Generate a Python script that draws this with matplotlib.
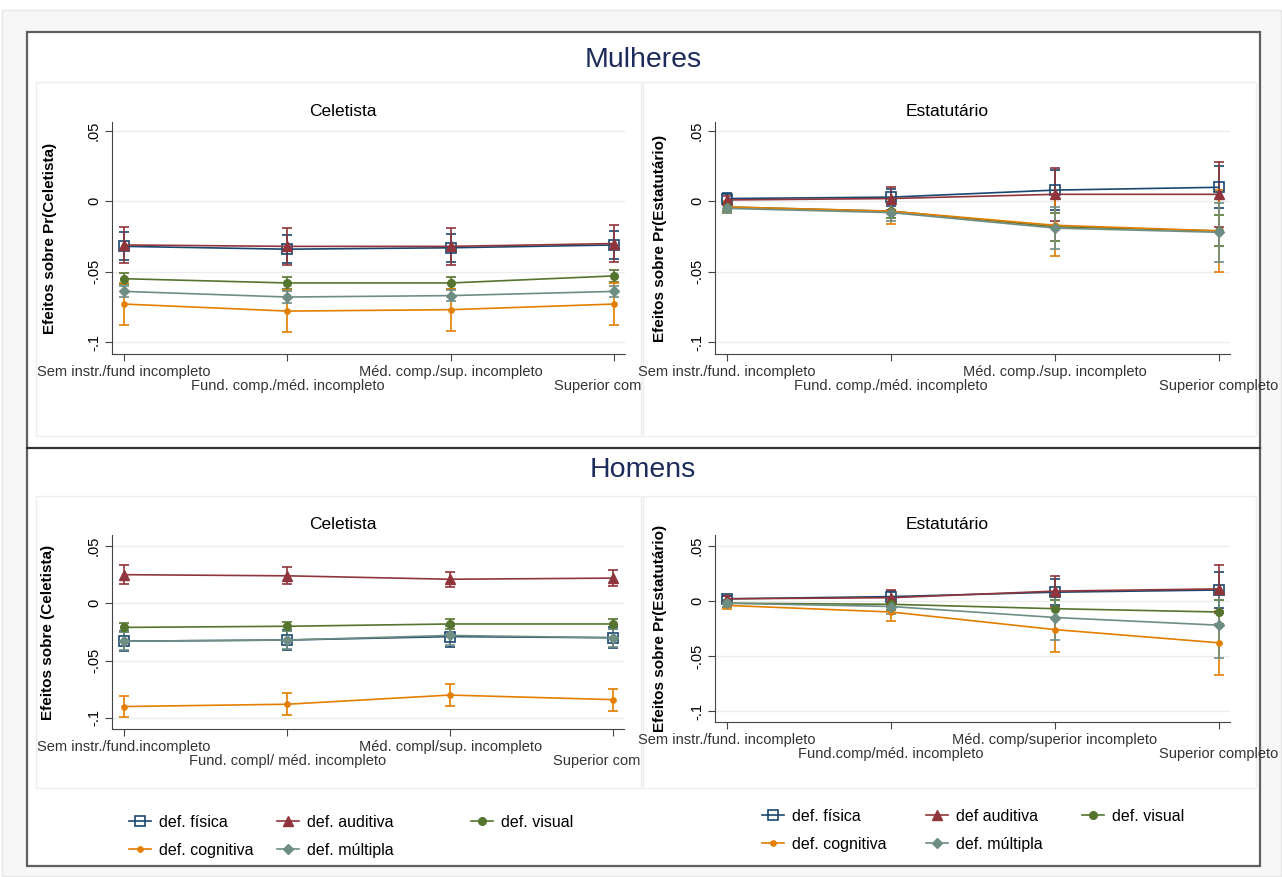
import matplotlib
matplotlib.use("Agg")
import matplotlib.pyplot as plt
from matplotlib.lines import Line2D
from matplotlib.patches import Rectangle
from matplotlib.transforms import offset_copy, Bbox, TransformedBbox

plt.rcParams['font.family'] = ['Liberation Sans', 'DejaVu Sans']

W, H = 1282, 877

# ---------------- data ----------------
cats = [1, 2, 3, 4]
series = ['def. física', 'def. auditiva', 'def. visual', 'def. cognitiva', 'def. múltipla']
series_right = ['def. física', 'def auditiva', 'def. visual', 'def. cognitiva', 'def. múltipla']

xlab_mc = ['Sem instr./fund incompleto', 'Fund. comp./méd. incompleto',
           'Méd. comp./sup. incompleto', 'Superior completo']
xlab_me = ['Sem instr./fund. incompleto', 'Fund. comp./méd. incompleto',
           'Méd. comp./sup. incompleto', 'Superior completo']
xlab_hc = ['Sem instr./fund.incompleto', 'Fund. compl/ méd. incompleto',
           'Méd. compl/sup. incompleto', 'Superior completo']
xlab_he = ['Sem instr./fund. incompleto', 'Fund.comp/méd. incompleto',
           'Méd. comp/superior incompleto', 'Superior completo']

yticks = [-0.1, -0.05, 0, 0.05]
yticklabels = ['-.1', '-.05', '0', '.05']

# Mulheres - Celetista  (point estimate, half width of CI)
mc_fis = [-0.032, -0.034, -0.033, -0.031]
mc_fis_ci = [0.010, 0.010, 0.010, 0.010]
mc_aud = [-0.031, -0.032, -0.032, -0.030]
mc_aud_ci = [0.013, 0.013, 0.013, 0.013]
mc_vis = [-0.055, -0.058, -0.058, -0.053]
mc_vis_ci = [0.004, 0.004, 0.004, 0.004]
mc_cog = [-0.073, -0.078, -0.077, -0.073]
mc_cog_ci = [0.015, 0.015, 0.015, 0.015]
mc_mul = [-0.064, -0.068, -0.067, -0.064]
mc_mul_ci = [0.004, 0.004, 0.004, 0.004]

# Mulheres - Estatutario
me_fis = [0.002, 0.003, 0.008, 0.010]
me_fis_ci = [0.004, 0.006, 0.014, 0.015]
me_aud = [0.001, 0.002, 0.005, 0.005]
me_aud_ci = [0.003, 0.008, 0.019, 0.023]
me_vis = [-0.004, -0.007, -0.018, -0.021]
me_vis_ci = [0.003, 0.005, 0.010, 0.011]
me_cog = [-0.004, -0.007, -0.017, -0.021]
me_cog_ci = [0.004, 0.009, 0.022, 0.029]
me_mul = [-0.005, -0.008, -0.019, -0.022]
me_mul_ci = [0.003, 0.006, 0.015, 0.021]

# Homens - Celetista
hc_fis = [-0.033, -0.032, -0.029, -0.030]
hc_fis_ci = [0.009, 0.009, 0.009, 0.009]
hc_aud = [0.025, 0.024, 0.021, 0.022]
hc_aud_ci = [0.008, 0.0075, 0.0065, 0.007]
hc_vis = [-0.021, -0.020, -0.018, -0.018]
hc_vis_ci = [0.004, 0.004, 0.004, 0.004]
hc_cog = [-0.090, -0.088, -0.080, -0.084]
hc_cog_ci = [0.0095, 0.0095, 0.0095, 0.0095]
hc_mul = [-0.033, -0.032, -0.028, -0.030]
hc_mul_ci = [0.008, 0.008, 0.008, 0.008]

# Homens - Estatutario
he_fis = [0.002, 0.004, 0.008, 0.010]
he_fis_ci = [0.003, 0.005, 0.012, 0.016]
he_aud = [0.002, 0.003, 0.009, 0.011]
he_aud_ci = [0.003, 0.007, 0.014, 0.022]
he_vis = [-0.002, -0.003, -0.007, -0.010]
he_vis_ci = [0.003, 0.005, 0.008, 0.011]
he_cog = [-0.004, -0.010, -0.026, -0.038]
he_cog_ci = [0.003, 0.008, 0.020, 0.029]
he_mul = [-0.002, -0.005, -0.015, -0.022]
he_mul_ci = [0.003, 0.007, 0.020, 0.030]

# ---------------- styles ----------------
colors = ['#1a476f', '#90353b', '#55752f', '#e37e00', '#6e8e84']
markers = [dict(marker='s', mfc='none', mew=1.2, ms=6.5),
           dict(marker='^', ms=6.5),
           dict(marker='o', ms=5.5),
           dict(marker='o', ms=3.8),
           dict(marker='D', ms=5)]

fig = plt.figure(figsize=(W / 100, H / 100), dpi=100)


def px_rect(x0, y0, x1, y1):  # pixel box -> figure fraction
    return [x0 / W, 1 - y1 / H, (x1 - x0) / W, (y1 - y0) / H]


def box(x0, y0, x1, y1, **kw):
    fig.add_artist(Rectangle((x0 / W, 1 - y1 / H), (x1 - x0) / W, (y1 - y0) / H,
                             transform=fig.transFigure, **kw))


# background + frame (drawn below the axes)
box(2, 10, 1281, 876, facecolor='#f7f7f7', edgecolor='#e6e6e6', lw=1, zorder=-3)
box(27, 32, 1260, 866, facecolor='white', edgecolor='#606060', lw=1.6, zorder=-2)
for r in [(36, 82, 641, 436), (643, 82, 1256, 436), (36, 496, 641, 788), (643, 496, 1256, 788)]:
    box(*r, facecolor='none', edgecolor='#eeeeee', lw=1, zorder=-1)
fig.add_artist(Line2D([27 / W, 1260 / W], [1 - 448 / H, 1 - 448 / H],
                      transform=fig.transFigure, color='#333333', lw=1.6, zorder=-1))

fig.text(643 / W, 1 - 60 / H, 'Mulheres', ha='center', va='center', fontsize=20.5, color='#1c2b5a')
fig.text(643 / W, 1 - 470 / H, 'Homens', ha='center', va='center', fontsize=20.5, color='#1c2b5a')

left_clip = TransformedBbox(Bbox([[0, 0], [641 / W, 1]]), fig.transFigure)


def draw_panel(rect, vals, cis, ylim, title, ylabel, xlabels, ylab_x, clip=None):
    ax = fig.add_axes(px_rect(*rect))
    ax.patch.set_alpha(0)
    for v, e, c, m in zip(vals, cis, colors, markers):
        ax.errorbar(cats, v, yerr=e, color=c, lw=1.2, elinewidth=1.2,
                    capsize=3.5, capthick=1.2, **m)
    ax.set_xlim(0.926, 4.067)
    ax.set_ylim(*ylim)
    ax.set_yticks(yticks)
    ax.set_yticklabels(yticklabels)
    ax.set_xticks(cats)
    ax.set_xticklabels([])
    ax.tick_params(axis='y', labelrotation=90, labelsize=10.5, length=5, pad=3, color='#444444')
    ax.tick_params(axis='x', length=5, color='#444444')
    for lab in ax.get_yticklabels():
        lab.set_va('center')
    ax.yaxis.grid(True, color='#ececec', lw=1)
    ax.set_axisbelow(True)
    for s in ['top', 'right']:
        ax.spines[s].set_visible(False)
    for s in ['left', 'bottom']:
        ax.spines[s].set_color('#444444')
    ax.set_title(title, fontsize=12.5, x=0.45, pad=4)
    ax.set_ylabel(ylabel, fontsize=11, fontweight='bold')
    ax.yaxis.set_label_coords(ylab_x, 0.5)
    for i, lab in enumerate(xlabels):
        dy = 11 if i % 2 == 0 else 25
        tr = offset_copy(ax.get_xaxis_transform(), fig=fig, y=-dy, units='dots')
        t = ax.text(cats[i], 0, lab, transform=tr, ha='center', va='top', fontsize=10.5, color='#333333')
        if clip is not None:
            t.set_clip_path(None)
            t.set_clip_box(clip)
            t.set_clip_on(True)
    return ax


draw_panel((112, 122, 625, 354),
           [mc_fis, mc_aud, mc_vis, mc_cog, mc_mul],
           [mc_fis_ci, mc_aud_ci, mc_vis_ci, mc_cog_ci, mc_mul_ci],
           (-0.1085, 0.0564), 'Celetista', 'Efeitos sobre Pr(Celetista)', xlab_mc, -0.107, left_clip)
draw_panel((715, 122, 1230, 354),
           [me_fis, me_aud, me_vis, me_cog, me_mul],
           [me_fis_ci, me_aud_ci, me_vis_ci, me_cog_ci, me_mul_ci],
           (-0.1085, 0.0564), 'Estatutário', 'Efeitos sobre Pr(Estatutário)', xlab_me, -0.093)
draw_panel((112, 535, 624, 729),
           [hc_fis, hc_aud, hc_vis, hc_cog, hc_mul],
           [hc_fis_ci, hc_aud_ci, hc_vis_ci, hc_cog_ci, hc_mul_ci],
           (-0.1096, 0.0596), 'Celetista', 'Efeitos sobre (Celetista)', xlab_hc, -0.111, left_clip)
draw_panel((715, 535, 1230, 722),
           [he_fis, he_aud, he_vis, he_cog, he_mul],
           [he_fis_ci, he_aud_ci, he_vis_ci, he_cog_ci, he_mul_ci],
           (-0.11, 0.06), 'Estatutário', 'Efeitos sobre Pr(Estatutário)', xlab_he, -0.093)

# legends: one small legend per column, rows = (fisica, cognitiva), (auditiva, multipla), (visual)
columns = [[0, 3], [1, 4], [2]]
legend_layout = [(series, [140, 288, 482], 815), (series_right, [773, 937, 1093], 809)]
for names, xs, ytop in legend_layout:
    for col, xm in zip(columns, xs):
        handles = [Line2D([], [], color=colors[i], lw=1.2, **markers[i]) for i in col]
        fig.legend(handles, [names[i] for i in col], loc='upper left',
                   bbox_to_anchor=((xm - 11) / W, 1 - ytop / H), frameon=False,
                   fontsize=11.5, handlelength=1.4, handletextpad=0.5,
                   labelspacing=0.8, borderpad=0, borderaxespad=0)

fig.savefig('out.png', dpi=100, facecolor='white')
